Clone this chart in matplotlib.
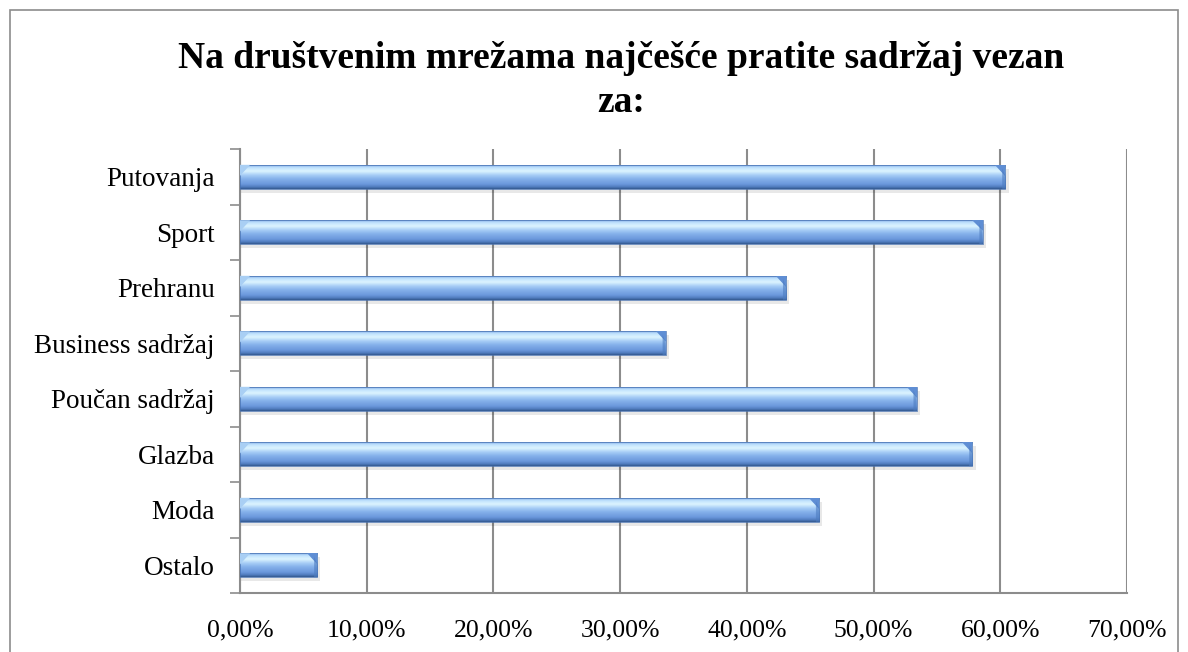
import numpy as np
import matplotlib.pyplot as plt
from matplotlib.colors import LinearSegmentedColormap
from matplotlib.patches import Rectangle

# values (percent)
categories = ['Putovanja', 'Sport', 'Prehranu', 'Business sadržaj',
              'Poučan sadržaj', 'Glazba', 'Moda', 'Ostalo']
values = [60.4, 58.6, 43.1, 33.6, 53.4, 57.8, 45.7, 6.1]
xticks = [0, 10, 20, 30, 40, 50, 60, 70]
xtick_labels = ['0,00%', '10,00%', '20,00%', '30,00%', '40,00%', '50,00%', '60,00%', '70,00%']
title_lines = ['Na društvenim mrežama najčešće pratite sadržaj vezan', 'za:']

fig = plt.figure(figsize=(11.88, 6.52), dpi=100)
ax = fig.add_axes([240 / 1188, 1 - 593 / 652, 887 / 1188, 444 / 652])

# outer chart frame (bottom edge is cut off in the reference)
fig.patches.append(Rectangle((10 / 1188, -0.05), 1168 / 1188, 1 - 10 / 652 + 0.05,
                             transform=fig.transFigure, fill=False,
                             edgecolor='#8c8c8c', linewidth=1.2))

fig.text(621 / 1188, 1 - 59 / 652, title_lines[0],
         ha='center', va='center', fontsize=27, fontweight='bold', family='Liberation Serif')
fig.text(621 / 1188, 1 - 102 / 652, title_lines[1],
         ha='center', va='center', fontsize=27, fontweight='bold', family='Liberation Serif')

y = np.arange(len(categories))[::-1]
bar_h = 0.43

cmap = LinearSegmentedColormap.from_list('bevel', [
    (0.0, '#86aee8'), (0.1, '#bfe2fd'), (0.25, '#dcf4ff'), (0.42, '#a6cdf6'),
    (0.58, '#84b0ea'), (0.8, '#6b98dc'), (0.92, '#4f7bbd'), (1.0, '#33598f')])
grad = np.linspace(0, 1, 100).reshape(-1, 1)

for yi, v in zip(y, values):
    # soft shadow under the bar
    ax.add_patch(Rectangle((0, yi - bar_h / 2 - 0.07), v + 0.25, bar_h, facecolor='#000000',
                           alpha=0.09, edgecolor='none', zorder=2))
    rect = Rectangle((0, yi - bar_h / 2), v, bar_h, facecolor='none',
                     edgecolor='#4570b0', linewidth=0.5, zorder=4)
    ax.add_patch(rect)
    im = ax.imshow(grad, cmap=cmap, aspect='auto', zorder=3,
                   extent=(0, v, yi - bar_h / 2, yi + bar_h / 2), interpolation='bilinear')
    im.set_clip_path(rect)
    # bevels at both ends
    top = yi + bar_h / 2
    ax.fill([v - 0.8, v, v], [top, top, top - 0.2], color='#5f8ed4', zorder=5, linewidth=0)
    ax.fill([v - 0.25, v, v, v - 0.25], [top - 0.06, top - 0.2, yi - bar_h / 2, yi - bar_h / 2],
            color='#4d7cc0', alpha=0.6, zorder=5, linewidth=0)
    ax.fill([0, 0.8, 0], [top, top, top - 0.2], color='#a9cff4', zorder=5, linewidth=0)

ax.set_xlim(0, 70)
ax.set_ylim(-0.5, len(categories) - 0.5)
ax.set_xticks(xticks)
ax.set_xticklabels(xtick_labels, family='Liberation Serif', fontsize=18.5)
ax.set_yticks(y)
ax.set_yticklabels(categories, family='Liberation Serif', fontsize=19.5)
ax.tick_params(axis='y', length=0, pad=18)
ax.tick_params(axis='x', length=0, pad=19)
ax.set_yticks(np.arange(-0.5, len(categories)), minor=True)
ax.tick_params(axis='y', which='minor', length=7, color='#8c8c8c', width=1.2)
ax.set_xticks(xticks, minor=True)
ax.tick_params(axis='x', which='minor', length=9, color='#8c8c8c', width=1.2)

ax.grid(axis='x', color='#8c8c8c', linewidth=1.5)
ax.set_axisbelow(True)
for s in ['top', 'right']:
    ax.spines[s].set_visible(False)
for s in ['left', 'bottom']:
    ax.spines[s].set_color('#8c8c8c')
    ax.spines[s].set_linewidth(1.5)

fig.savefig('out.png', dpi=100)
